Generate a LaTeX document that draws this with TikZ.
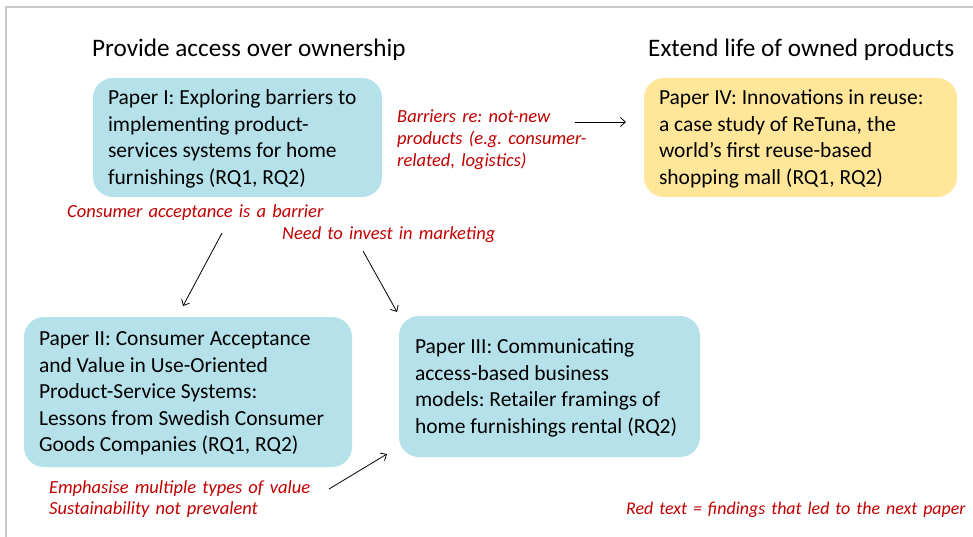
\documentclass[tikz,border=0pt]{standalone}
\usepackage{fontspec}
\setmainfont{Carlito}
\usetikzlibrary{arrows.meta}
\frenchspacing
\definecolor{paperblue}{HTML}{B5E1EB}
\definecolor{paperyellow}{HTML}{FFE699}
\definecolor{findred}{HTML}{C00000}
\definecolor{framegrey}{HTML}{C8C8C8}
\tikzset{
  paperbox/.style={rounded corners=20pt, inner sep=0pt, anchor=center},
  papertext/.style={anchor=west, inner sep=0pt, align=left, text=black,
    yshift=-1.5pt, font=\fontsize{21.5}{26.5}\selectfont},
  heading/.style={anchor=base west, inner sep=0pt,
    font=\fontsize{25.2}{30}\selectfont},
  finding/.style={anchor=base west, inner sep=0pt, align=left,
    text width=420pt, text=findred,
    font=\fontsize{18.5}{22}\selectfont\itshape},
  link/.style={draw=black, line width=0.8pt,
    -{Straight Barb[length=5pt,width=9pt]}},
}
\begin{document}
\begin{tikzpicture}[x=1pt,y=-1pt]
  \useasboundingbox (0,0) rectangle (973,537);
  % page frame (top and left edges)
  \draw[framegrey, line width=1.2pt] (6,537) -- (6,7) -- (973,7);

  % column headings
  \node[heading] (hAccess) at (92,57) {Provide access over ownership};
  \node[heading] (hExtend) at (648,57) {Extend life of owned products};

  % papers: rounded boxes with left-aligned text
  \node[paperbox, fill=paperblue, minimum width=289pt, minimum height=119pt]
    (p1) at (237.5,137.5) {};
  \node[papertext] (p1text) at ([xshift=15pt]p1.west)
    {Paper I: Exploring barriers to\\ implementing product-\\ services systems for home\\ furnishings (RQ1, RQ2)};

  \node[paperbox, fill=paperyellow, minimum width=313pt, minimum height=119pt]
    (p4) at (800.5,137.5) {};
  \node[papertext] (p4text) at ([xshift=15pt]p4.west)
    {Paper IV: Innovations in reuse:\\ a case study of ReTuna, the\\ world’s first reuse-based\\ shopping mall (RQ1, RQ2)};

  \node[paperbox, fill=paperblue, minimum width=328pt, minimum height=150pt]
    (p2) at (188,392) {};
  \node[papertext] (p2text) at ([xshift=15pt]p2.west)
    {Paper II: Consumer Acceptance\\ and Value in Use-Oriented\\ Product-Service Systems:\\ Lessons from Swedish Consumer\\ Goods Companies (RQ1, RQ2)};

  \node[paperbox, fill=paperblue, minimum width=301pt, minimum height=141pt]
    (p3) at (549.5,386.5) {};
  \node[papertext] (p3text) at ([xshift=16pt]p3.west)
    {Paper III: Communicating\\ access-based business\\ models: Retailer framings of\\ home furnishings rental (RQ2)};

  % findings
  \node[finding] (fReuse) at (397,123)
    {Barriers re: not-new\\ products (e.g. consumer-\\ related, logistics)};
  \node[finding] (fAccept) at (67,218) {Consumer acceptance is a barrier};
  \node[finding] (fMarket) at (282,240) {Need to invest in marketing};
  \node[finding, font=\fontsize{18.5}{21}\selectfont\itshape] (fValue) at (49,493)
    {Emphasise multiple types of value\\ Sustainability not prevalent};
  \node[finding, text width=360pt, font=\fontsize{17.9}{22}\selectfont\itshape]
    (fLegend) at (626,514)
    {Red text = findings that led to the next paper};

  % connector end points
  \coordinate (r1s) at (575,122);  \coordinate (r1e) at (626,122);
  \coordinate (a2s) at (222,233);  \coordinate (a2e) at (183,306);
  \coordinate (a3s) at (363,251);  \coordinate (a3e) at (397,312);
  \coordinate (a4s) at (329,489);  \coordinate (a4e) at (387,454);

  \draw[link] (r1s) -- (r1e);
  \draw[link] (a2s) -- (a2e);
  \draw[link] (a3s) -- (a3e);
  \draw[link] (a4s) -- (a4e);
\end{tikzpicture}
\end{document}
